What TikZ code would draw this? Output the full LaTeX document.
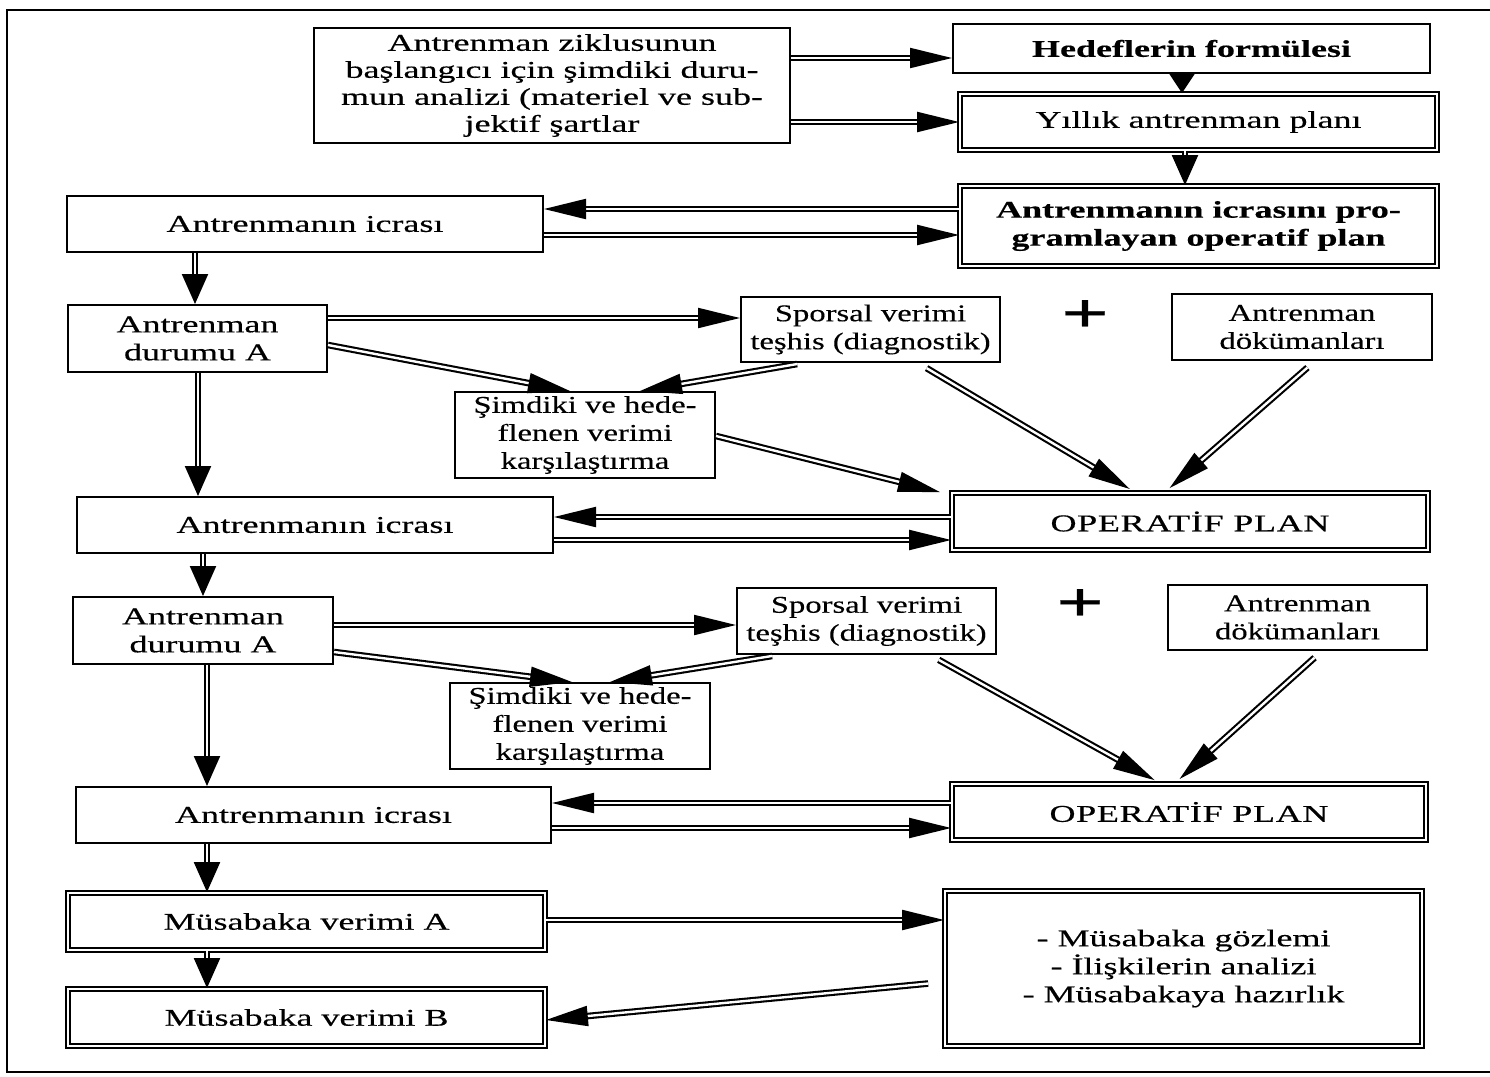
\documentclass[tikz,border=0pt]{standalone}
\usepackage{fontspec}
\usetikzlibrary{arrows.meta}
\newfontfamily\df[FakeStretch=1.5, FakeBold=0.4]{Liberation Serif}
\newfontfamily\dn[FakeStretch=1.36, FakeBold=0.3]{Liberation Serif}
\tikzset{
  box/.style={draw, line width=1pt, inner sep=0pt, align=center, fill=white,
    font=\df\fontsize{12}{14}\selectfont},
  nbox/.style={box, font=\dn\fontsize{12}{14}\selectfont},
  dbox/.style={box, double, double distance=1.4pt, line width=0.9pt},
  darr/.style={line width=1.05pt, double, double distance=1.2pt,
    -{Triangle[length=21pt,width=10pt]}},
  varr/.style={line width=1.05pt, double, double distance=1.2pt,
    -{Triangle[length=15pt,width=13pt]}},
  plus/.style={inner sep=0pt, font=\df\fontsize{28}{28}\selectfont\bfseries}
}
\begin{document}
\begin{tikzpicture}[x=0.5pt, y=-0.5pt]
\useasboundingbox (0,0) rectangle (1490,1077);
\fill[white] (0,0) rectangle (1490,1077);
% outer frame
\draw[line width=1.3pt] (1490,10) -- (7,10) -- (7,1072) -- (1490,1072);

% nodes
\node[box, minimum width=238pt, minimum height=57.5pt,
  font=\df\fontsize{12}{13.5}\selectfont] (top) at (552,85.5)
  {Antrenman ziklusunun\\başlangıcı için şimdiki duru-\\mun analizi (materiel ve sub-\\jektif şartlar};
\node[box, minimum width=238.5pt, minimum height=24.5pt, font=\df\fontsize{12}{14}\selectfont\bfseries] (hed) at (1191.5,48.5) {Hedeflerin formülesi};
\node[dbox, minimum width=238.5pt, minimum height=28pt] (yil) at (1198.5,122) {Yıllık antrenman planı};
\node[dbox, minimum width=238.5pt, minimum height=40pt, font=\df\fontsize{12}{14}\selectfont\bfseries] (opr) at (1198.5,226) {Antrenmanın icrasını pro-\\gramlayan operatif plan};
\node[box, minimum width=238pt, minimum height=28pt] (icr1) at (305,224) {Antrenmanın icrası};

\node[box, minimum width=129.5pt, minimum height=33.5pt] (durA1) at (197.5,338.5) {Antrenman\\durumu A};
\node[nbox, minimum width=129.5pt, minimum height=32.5pt] (spo1) at (870.5,329.5) {Sporsal verimi\\teşhis (diagnostik)};
\node[plus] (plus1) at (1085,316) {+};
\node[nbox, minimum width=130pt, minimum height=33pt] (dok1) at (1302,327) {Antrenman\\dökümanları};
\node[nbox, minimum width=130pt, minimum height=43pt] (sim1) at (585,435) {Şimdiki ve hede-\\flenen verimi\\karşılaştırma};
\node[box, minimum width=238pt, minimum height=28pt] (icr2) at (315,525) {Antrenmanın icrası};
\node[dbox, minimum width=238pt, minimum height=28.5pt, font=\df\fontsize{12}{14}\selectfont\addfontfeature{LetterSpace=3}] (op1) at (1190,521.5) {OPERATİF PLAN};

\node[box, minimum width=130pt, minimum height=33.5pt] (durA2) at (203,630.5) {Antrenman\\durumu A};
\node[nbox, minimum width=129.5pt, minimum height=33pt] (spo2) at (866.5,621) {Sporsal verimi\\teşhis (diagnostik)};
\node[plus] (plus2) at (1080,605) {+};
\node[nbox, minimum width=129.5pt, minimum height=32.5pt] (dok2) at (1297.5,617.5) {Antrenman\\dökümanları};
\node[nbox, minimum width=130pt, minimum height=43pt] (sim2) at (580,726) {Şimdiki ve hede-\\flenen verimi\\karşılaştırma};
\node[box, minimum width=237.5pt, minimum height=28pt] (icr3) at (313.5,815) {Antrenmanın icrası};
\node[dbox, minimum width=237pt, minimum height=28pt, font=\df\fontsize{12}{14}\selectfont\addfontfeature{LetterSpace=3}] (op2) at (1189,812) {OPERATİF PLAN};

\node[dbox, minimum width=238.5pt, minimum height=28.5pt] (musA) at (306.5,921.5) {Müsabaka verimi A};
\node[dbox, minimum width=238.5pt, minimum height=28.5pt] (musB) at (306.5,1017.5) {Müsabaka verimi B};
\node[dbox, minimum width=238.5pt, minimum height=77.5pt] (big) at (1183.5,968.5) {- Müsabaka gözlemi\\- İlişkilerin analizi\\- Müsabakaya hazırlık};

% connectors
\draw[darr] (top.east |- 0,58) -- (hed.west |- 0,58);
\draw[darr] (top.east |- 0,122) -- (yil.west |- 0,122);
\draw[line width=1.05pt, double, double distance=1.2pt, -{Triangle[length=10pt,width=13pt]}] (1182,0 |- hed.south) -- (1182,0 |- yil.north);
\draw[varr] (1185,0 |- yil.south) -- (1185,0 |- opr.north);
\draw[darr] (opr.west |- 0,209) -- (icr1.east |- 0,209);
\draw[darr] (icr1.east |- 0,235) -- (opr.west |- 0,235);
\draw[varr] (195,0 |- icr1.south) -- (195,0 |- durA1.north);

\draw[darr] (durA1.east |- 0,318) -- (spo1.west |- 0,318);
\draw[darr] (durA1.east |- 0,345) -- (570,0 |- sim1.north);
\draw[darr, shorten <=3pt] (803,0 |- spo1.south) -- (640,0 |- sim1.north);
\draw[darr] (sim1.east |- 0,436) -- (940,0 |- op1.north);
\draw[darr, shorten <=5pt, shorten >=3pt] (918,0 |- spo1.south) -- (1135,0 |- op1.north);
\draw[darr, shorten <=5pt, shorten >=3pt] (1315,0 |- dok1.south) -- (1165,0 |- op1.north);
\draw[varr] (198,0 |- durA1.south) -- (198,0 |- icr2.north);
\draw[darr] (op1.west |- 0,517) -- (icr2.east |- 0,517);
\draw[darr] (icr2.east |- 0,540) -- (op1.west |- 0,540);
\draw[varr] (203,0 |- icr2.south) -- (203,0 |- durA2.north);

\draw[darr] (durA2.east |- 0,625) -- (spo2.west |- 0,625);
\draw[darr] (durA2.east |- 0,652) -- (572,0 |- sim2.north);
\draw[darr, shorten <=3pt] (778,0 |- spo2.south) -- (610,0 |- sim2.north);
\draw[darr, shorten <=5pt, shorten >=3pt] (930,0 |- spo2.south) -- (1160,0 |- op2.north);
\draw[darr, shorten <=5pt, shorten >=3pt] (1322,0 |- dok2.south) -- (1175,0 |- op2.north);
\draw[varr] (207,0 |- durA2.south) -- (207,0 |- icr3.north);
\draw[darr] (op2.west |- 0,803) -- (icr3.east |- 0,803);
\draw[darr] (icr3.east |- 0,828) -- (op2.west |- 0,828);
\draw[varr] (207,0 |- icr3.south) -- (207,0 |- musA.north);

\draw[darr] (musA.east |- 0,920) -- (big.west |- 0,920);
\draw[varr] (207,0 |- musA.south) -- (207,0 |- musB.north);
\draw[darr, shorten <=8pt] (big.west |- 0,982) -- (musB.east |- 0,1020);
\end{tikzpicture}
\end{document}
